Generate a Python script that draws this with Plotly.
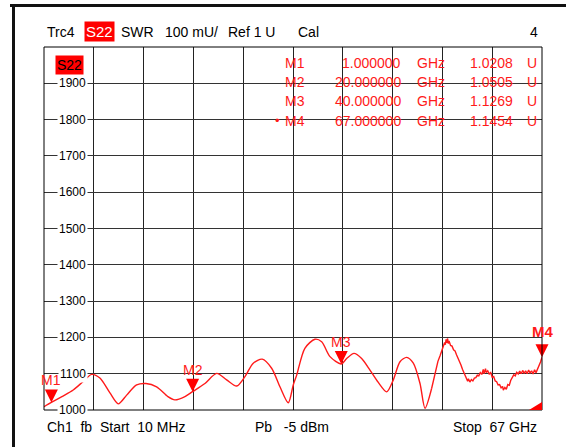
import plotly.graph_objects as go

# ---------------- data ----------------
freq_smooth = [0.01, 1.0, 2.42, 3.94, 5.25, 6.42, 7.53, 8.88, 10.0, 11.13, 12.47, 13.72,
               15.16, 16.68, 17.62, 18.97, 20.0, 21.66, 23.24, 24.58, 25.93, 27.04, 28.16,
               29.37, 30.63, 31.75, 32.87, 33.54, 34.0, 35.1, 36.46, 37.36, 38.48, 40.0,
               40.73, 41.71, 42.74, 43.86, 44.98, 46.11, 47.0, 47.9, 48.8, 49.69, 50.59,
               51.26, 52.16]
swr_smooth = [1009, 1020.8, 1037, 1055, 1078, 1098, 1088, 1047, 1017, 1041, 1069, 1073,
              1064, 1037, 1028, 1037, 1050.5, 1073, 1101, 1083, 1066, 1092, 1129,
              1140, 1115, 1064, 1020, 1069, 1096, 1170, 1195, 1188, 1147, 1126.9,
              1142, 1156, 1142, 1110, 1076, 1050, 1083, 1133, 1145, 1129, 1073,
              1005, 1060]

freq_noisy = [52.16, 52.5, 52.8, 53.0, 53.3, 53.5, 53.7, 53.9, 54.0, 54.1, 54.2, 54.3, 54.4,
              54.5, 54.7, 54.9, 55.1, 55.3, 55.5, 55.7, 55.9, 56.1, 56.3, 56.5, 56.7, 56.8,
              57.0, 57.1, 57.3, 57.5, 57.7, 57.9, 58.1, 58.3, 58.5, 58.7, 58.9, 59.1, 59.2,
              59.4, 59.5, 59.7, 59.9, 60.1, 60.3, 60.5, 60.7, 60.9, 61.1, 61.3, 61.5, 61.7,
              61.8, 62.0, 62.2, 62.4, 62.6, 62.8, 63.0, 63.2, 63.4, 63.6, 63.8, 64.0, 64.2,
              64.4, 64.6, 64.8, 65.0, 65.2, 65.4, 65.6, 65.8, 66.0, 66.2, 66.4, 66.6, 66.8,
              67.0]
swr_noisy = [1060, 1088, 1118, 1134, 1150, 1163, 1175, 1186, 1180, 1195, 1185, 1197, 1183,
             1190, 1178, 1176, 1166, 1163, 1152, 1144, 1133, 1124, 1112, 1101, 1092, 1085,
             1079, 1086, 1077, 1084, 1080, 1088, 1089, 1096, 1094, 1103, 1098, 1112, 1100,
             1114, 1103, 1108, 1099, 1103, 1090, 1092, 1080, 1078, 1069, 1070, 1061, 1065,
             1055, 1062, 1057, 1070, 1068, 1082, 1088, 1097, 1094, 1104, 1099, 1107, 1100,
             1109, 1101, 1108, 1100, 1110, 1102, 1108, 1099, 1111, 1103, 1112, 1119, 1132,
             1145.4]

marker_names = ["M1", "M2", "M3", "M4"]
marker_freq = [1.0, 20.0, 40.0, 67.0]
marker_vals = [1020.8, 1050.5, 1126.9, 1145.4]
marker_freq_txt = ["1.000000", "20.000000", "40.000000", "67.000000"]
marker_val_txt = ["1.0208", "1.0505", "1.1269", "1.1454"]

y_ticks = [1000, 1100, 1200, 1300, 1400, 1500, 1600, 1700, 1800, 1900]

# ---------------- layout helpers (pixel -> paper) ----------------
L, R, T, B = 44, 542, 47, 410
def px(x):
    return (x - L) / (R - L)
def py(y):
    return (B - y) / (B - T)

RED = "#ff1a1a"
FONT = "Liberation Sans, Arial, sans-serif"

fig = go.Figure()
fig.add_trace(go.Scatter(x=freq_smooth, y=swr_smooth, mode="lines",
                         line=dict(color=RED, width=1.4, shape="spline", smoothing=0.8),
                         hoverinfo="skip"))
fig.add_trace(go.Scatter(x=freq_noisy, y=swr_noisy, mode="lines",
                         line=dict(color=RED, width=1.4), hoverinfo="skip"))
fig.add_trace(go.Scatter(x=marker_freq, y=marker_vals, mode="markers",
                         marker=dict(symbol="arrow-down", size=13, color="#ff0000",
                                     line=dict(width=0)),
                         cliponaxis=False, hoverinfo="skip"))

ann = []
# marker labels
for i, (n, f, v) in enumerate(zip(marker_names, marker_freq, marker_vals)):
    active = (i == 3)
    ann.append(dict(x=f, y=v, xref="x", yref="y", text=("<b>%s</b>" % n) if active else n,
                    showarrow=False, xanchor="center", yanchor="bottom",
                    yshift=15 if active else 12,
                    font=dict(family=FONT, size=15 if active else 14, color=RED)))

# y tick labels inside the plot with white background
for t in y_ticks:
    ann.append(dict(x=px(88), y=t, xref="paper", yref="y", text=str(t), showarrow=False,
                    xanchor="right", yanchor="middle", bgcolor="white", borderpad=1,
                    font=dict(family=FONT, size=12, color="black")))

# header
def txt(x, y, s, anchor="left", color="black", size=14, bg=None):
    d = dict(x=px(x), y=py(y), xref="paper", yref="paper", text=s, showarrow=False,
             xanchor=anchor, yanchor="middle", font=dict(family=FONT, size=size, color=color))
    if bg:
        d["bgcolor"] = bg
        d["borderpad"] = 1
    ann.append(d)

hy = 32
txt(45, hy, "Trc4")
txt(84, hy, "S22", color="white", size=15, bg="#ff0000")
txt(119, hy, "SWR")
txt(163, hy, "100 mU/")
txt(226, hy, "Ref 1 U")
txt(296, hy, "Cal")
txt(540, hy, "4", anchor="right")

# S22 label in plot
txt(55, 65, "S22", color="black", size=14, bg="#ff0000")

# marker table
rows_y = [62.7, 81.7, 100.7, 120.7]
for n, ft, vt, yy in zip(marker_names, marker_freq_txt, marker_val_txt, rows_y):
    txt(283, yy, n, color=RED)
    txt(403, yy, ft, anchor="right", color=RED)
    txt(415, yy, "GHz", color=RED)
    txt(515, yy, vt, anchor="right", color=RED)
    txt(525, yy, "U", color=RED)
txt(282, 121, "•", anchor="right", color=RED, size=13)

# footer
fy = 427
txt(45, fy, "Ch1\u00a0\u00a0fb\u00a0\u00a0Start\u00a0\u00a010 MHz")
txt(253, fy, "Pb\u00a0\u00a0\u00a0-5 dBm")
txt(539, fy, "Stop\u00a0\u00a067 GHz", anchor="right")

shapes = [
    # outer frame
    dict(type="line", xref="paper", yref="paper", x0=px(10), x1=px(566), y0=py(5.5), y1=py(5.5),
         line=dict(color="#111", width=3)),
    dict(type="line", xref="paper", yref="paper", x0=px(13.5), x1=px(13.5), y0=py(4), y1=py(447),
         line=dict(color="#111", width=3)),
    # plot border
    dict(type="rect", xref="paper", yref="paper", x0=0, x1=1, y0=0, y1=1,
         line=dict(color="black", width=1), layer="above"),
    # bottom-right indicator wedge
    dict(type="path", xref="paper", yref="paper",
         path="M %f,%f L %f,%f L %f,%f Z" % (px(529), py(410), px(542), py(410), px(542), py(402)),
         fillcolor="#ff0000", line=dict(width=0)),
]

fig.update_layout(
    width=566, height=447,
    margin=dict(l=L, r=566 - R, t=T, b=447 - B),
    paper_bgcolor="white", plot_bgcolor="white",
    showlegend=False,
    annotations=ann, shapes=shapes,
    xaxis=dict(range=[0.01, 67], tick0=0.01, dtick=(67 - 0.01) / 10, showticklabels=False,
               showgrid=True, gridcolor="#222", gridwidth=1, zeroline=False, ticks="",
               showline=False, fixedrange=True),
    yaxis=dict(range=[1000, 2000], dtick=100, showticklabels=False, showgrid=True,
               gridcolor="#333", gridwidth=1, zeroline=False, ticks="", showline=False,
               fixedrange=True),
)

fig.write_html("out.html", config={"displayModeBar": False},
               post_script="document.body.style.margin='0';document.body.style.overflow='hidden';")
